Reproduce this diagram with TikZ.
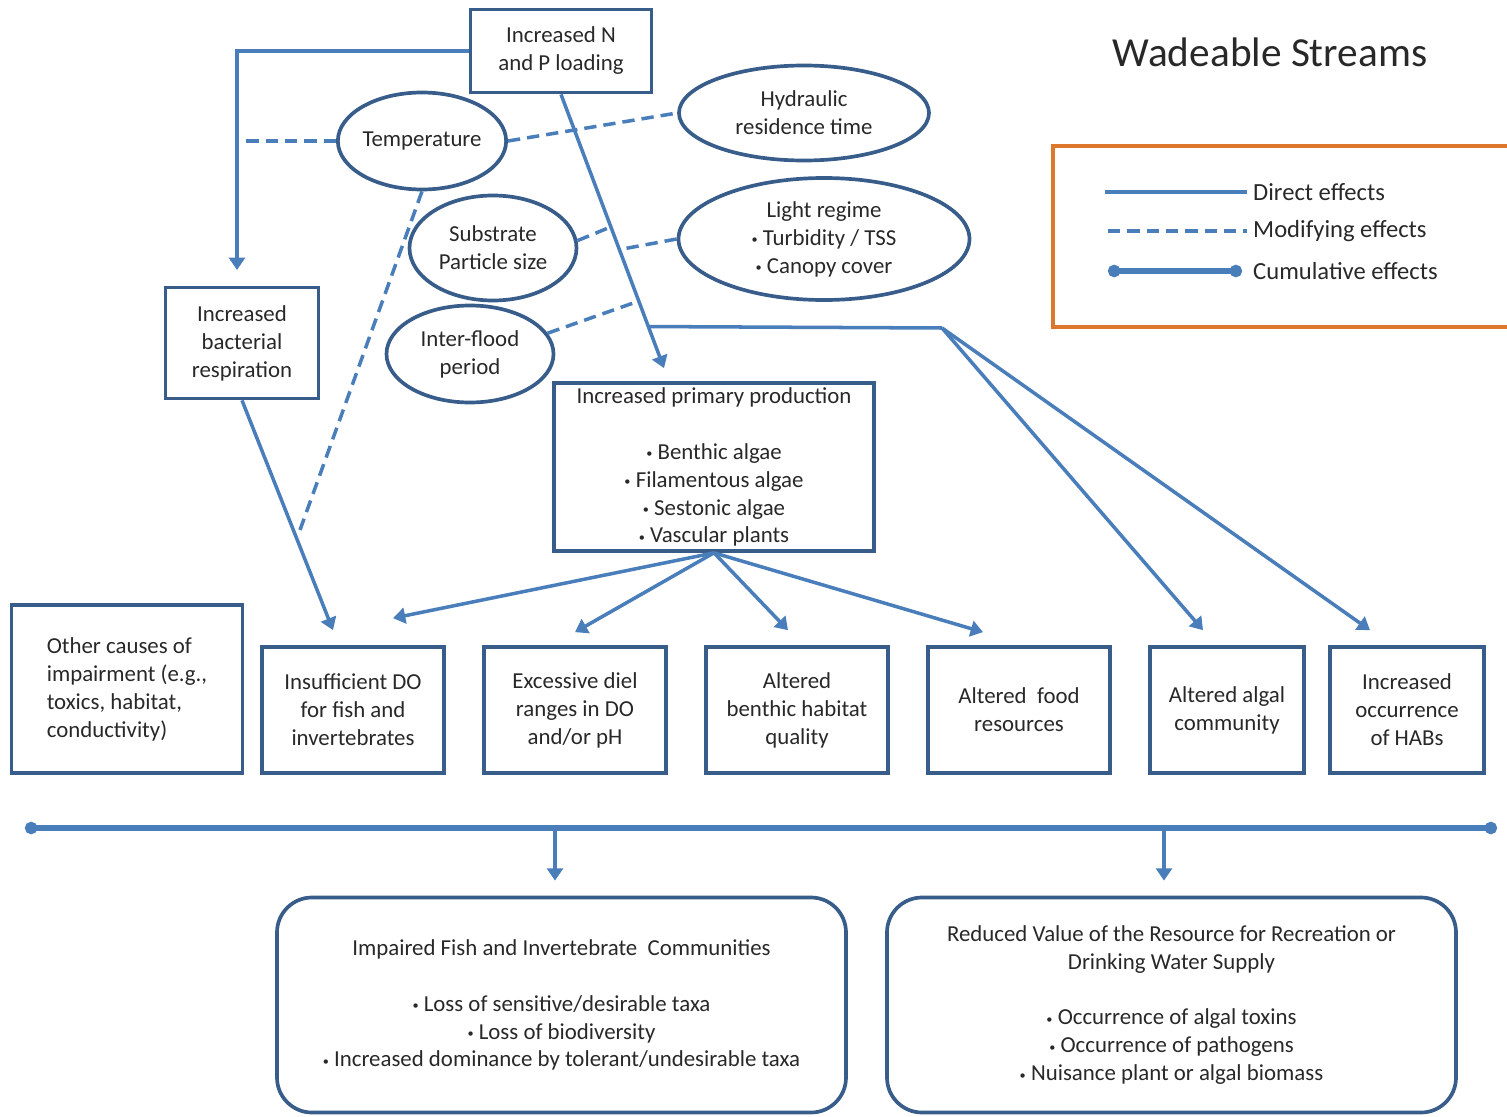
\documentclass[tikz,border=0pt]{standalone}
\usepackage{fontspec}
\setmainfont{Carlito}
\usepackage{tikz}
\usetikzlibrary{arrows.meta, shapes.geometric, calc}
\definecolor{linkblue}{RGB}{74,126,187}
\definecolor{boxblue}{RGB}{56,93,138}
\definecolor{legendorange}{RGB}{222,120,45}
\definecolor{txtgray}{RGB}{40,40,40}
\newcommand{\bul}{\raisebox{0.15ex}{\scriptsize\textbullet}\ }

\begin{document}
\begin{tikzpicture}[
  x=0.2mm, y=-0.2mm,
  every node/.style={font=\fontsize{13}{15.9}\selectfont, text=txtgray},
  box/.style={draw=boxblue, line width=2.1pt, align=center, inner sep=2pt},
  oval/.style={ellipse, draw=boxblue, line width=2.1pt, align=center, inner sep=0pt},
  endbox/.style={draw=boxblue, line width=2.1pt, rounded corners=0.7cm, align=center,
                 minimum width=11.38cm, minimum height=4.3cm},
  lgtext/.style={anchor=west, font=\fontsize{14}{17}\selectfont},
  direct/.style={linkblue, line width=2pt},
  arr/.style={direct, -{Triangle[length=7pt, width=9pt]}},
  modif/.style={linkblue, line width=2pt, dash pattern=on 7pt off 4pt},
  cumul/.style={linkblue, line width=3pt, {Circle[length=7pt]}-{Circle[length=7pt]}},
]
\useasboundingbox (0,0) rectangle (1507,1117);

%% ── TITLE ─────────────────────────────────────────────────────────────
\node[font=\fontsize{23.5}{28}\selectfont] (title) at (1270,52) {Wadeable Streams};

%% ── LEGEND ────────────────────────────────────────────────────────────
\draw[legendorange, line width=2.1pt] (1507,146) -- (1053,146) -- (1053,327) -- (1507,327);
\node[lgtext] (lgdirect) at (1247,192) {Direct effects};
\node[lgtext] (lgmodif)  at (1247,231) {Modifying effects};
\node[lgtext] (lgcumul)  at (1247,271) {Cumulative effects};
\draw[direct] (lgdirect.west) ++(-142,0) -- (lgdirect.west);
\draw[modif]  (lgmodif.west)  ++(-139,0) -- (lgmodif.west);
\draw[cumul]  (lgcumul.west)  ++(-139,0) -- ([xshift=-0.1cm]lgcumul.west);

%% ── DRIVERS ───────────────────────────────────────────────────────────
\node[box, minimum width=3.62cm, minimum height=1.66cm]
  (nploading) at (561,51) {Increased N\\and P loading};
\node[oval, minimum width=3.36cm, minimum height=1.94cm]
  (temp) at (422,141) {Temperature};
\node[oval, minimum width=5.0cm, minimum height=1.9cm]
  (hydro) at (804,113) {Hydraulic\\residence time};
\node[oval, minimum width=3.34cm, minimum height=2.1cm]
  (substrate) at (493,248) {Substrate\\Particle size};
\node[oval, minimum width=5.82cm, minimum height=2.44cm]
  (light) at (824,239) {Light regime\\\bul Turbidity / TSS\\\bul Canopy cover};
\node[oval, minimum width=3.34cm, minimum height=1.94cm]
  (interflood) at (470,354) {Inter-flood\\period};

%% ── FIRST RESPONSES ───────────────────────────────────────────────────
\node[box, minimum width=3.06cm, minimum height=2.22cm]
  (bacresp) at (242,343) {Increased\\bacterial\\respiration};
\node[box, minimum width=6.4cm, minimum height=3.36cm]
  (primprod) at (714,467) {Increased primary production\\[15.9pt]\bul Benthic algae\\\bul Filamentous algae\\\bul Sestonic algae\\\bul Vascular plants};

%% ── EFFECTS ROW ───────────────────────────────────────────────────────
\node[box, minimum width=4.62cm, minimum height=3.36cm, align=left]
  (othercause) at (127,689) {Other causes of\\impairment (e.g.,\\toxics, habitat,\\conductivity)};
\node[box, minimum width=3.64cm, minimum height=2.52cm]
  (lowdo) at (353,710) {Insufficient DO\\for fish and\\invertebrates};
\node[box, minimum width=3.64cm, minimum height=2.52cm]
  (dielrange) at (575,710) {Excessive diel\\ranges in DO\\and/or pH};
\node[box, minimum width=3.64cm, minimum height=2.52cm]
  (benthic) at (797,710) {Altered\\benthic habitat\\quality};
\node[box, minimum width=3.64cm, minimum height=2.52cm]
  (food) at (1019,710) {Altered\ \ food\\resources};
\node[box, minimum width=3.08cm, minimum height=2.52cm]
  (algalcomm) at (1227,710) {Altered algal\\community};
\node[box, minimum width=3.08cm, minimum height=2.52cm]
  (habs) at (1407,710) {Increased\\occurrence\\of HABs};

%% ── ENDPOINTS ─────────────────────────────────────────────────────────
\node[endbox] (impaired) at (561.5,1005)
  {Impaired Fish and Invertebrate\ \ Communities\\[15.9pt]\bul Loss of sensitive/desirable taxa\\\bul Loss of biodiversity\\\bul Increased dominance by tolerant/undesirable taxa};
\node[endbox] (reduced) at (1171.5,1005)
  {Reduced Value of the Resource for Recreation or\\Drinking Water Supply\\[15.9pt]\bul Occurrence of algal toxins\\\bul Occurrence of pathogens\\\bul Nuisance plant or algal biomass};

%% ═════════════════════════════════════════════════════════════════════
%% LINKS
%% ═════════════════════════════════════════════════════════════════════

%% N and P loading → bacterial respiration
\coordinate (bacin) at (237,270);
\draw[arr] (nploading.west) -| (bacin);

%% N and P loading → primary production
\coordinate (ppin) at ($(primprod.north)+(-50,-13)$);
\draw[arr] (nploading.south) -- (ppin);
\path (nploading.south) -- (ppin)
  coordinate[pos=0.484] (subjoin) coordinate[pos=0.567] (lightjoin)
  coordinate[pos=0.755] (floodjoin) coordinate[pos=0.848] (fork);

%% modifying factors
\coordinate (tempend) at (300,530);
\draw[modif] (temp.west) -- (temp.west -| bacin);
\draw[modif] (temp.east) -- (hydro.west);
\draw[modif] (temp.south) -- (tempend);
\draw[modif] (substrate.5) -- (subjoin);
\draw[modif] (light.west) -- (lightjoin);
\draw[modif] (interflood.15) -- (floodjoin);

%% fork → algal community, HABs
\coordinate (forkturn) at (942,328);
\draw[direct] (fork) -- (forkturn);
\draw[arr] (forkturn) -- ($(algalcomm.north)+(-24,-15)$);
\draw[arr] (forkturn) -- ($(habs.north)+(-37,-15)$);

%% bacterial respiration → insufficient DO
\draw[arr] (bacresp.south) -- ($(lowdo.north)+(-20,-15)$);

%% primary production → effects
\draw[arr] (primprod.south) -- ($(lowdo.north)+(40,-27)$);
\draw[arr] (primprod.south) -- ($(dielrange.north)+(0,-13)$);
\draw[arr] (primprod.south) -- ($(benthic.north)+(-9,-15)$);
\draw[arr] (primprod.south) -- ($(food.north)+(-36,-13)$);

%% cumulative effects → endpoints
\coordinate (cumleft)  at (25,828);
\coordinate (cumright) at (1497,828);
\coordinate (cumA) at (555,828);
\coordinate (cumB) at (1164,828);
\draw[cumul] (cumleft) -- (cumright);
\draw[arr] (cumA) -- ($(impaired.north)+(-6.5,-15)$);
\draw[arr] (cumB) -- ($(reduced.north)+(-7.5,-15)$);

\end{tikzpicture}
\end{document}
